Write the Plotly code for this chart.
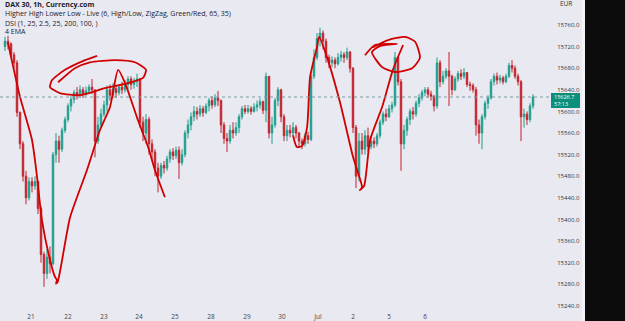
import plotly.graph_objects as go

# ---- data ----
closes = [15730, 15725, 15705, 15690, 15598, 15540, 15480, 15440, 15470, 15462,
          15470, 15420, 15335, 15300, 15330, 15318, 15520, 15545, 15530, 15565,
          15585, 15610, 15622, 15635, 15630, 15640, 15632, 15638, 15645, 15640,
          15545, 15575, 15595, 15612, 15640, 15630, 15642, 15635, 15645, 15640,
          15650, 15660, 15650, 15655, 15660, 15580, 15560, 15585, 15540, 15525,
          15495, 15480, 15500, 15495, 15512, 15525, 15518, 15528, 15505, 15520,
          15560, 15575, 15590, 15600, 15595, 15605, 15598, 15610, 15620, 15612,
          15625, 15620, 15575, 15550, 15545, 15565, 15560, 15570, 15590, 15605,
          15600, 15605, 15600, 15608, 15612, 15618, 15602, 15665, 15560, 15575,
          15620, 15640, 15590, 15555, 15565, 15560, 15570, 15560, 15545, 15540,
          15555, 15548, 15665, 15700, 15735, 15745, 15730, 15700, 15690, 15695,
          15688, 15700, 15705, 15700, 15710, 15680, 15570, 15480, 15545, 15530,
          15555, 15535, 15545, 15540, 15555, 15580, 15595, 15590, 15605, 15612,
          15700, 15655, 15540, 15565, 15585, 15600, 15595, 15615, 15625, 15635,
          15640, 15632, 15628, 15610, 15690, 15655, 15665, 15675, 15665, 15640,
          15660, 15670, 15665, 15672, 15650, 15648, 15640, 15575, 15560, 15590,
          15615, 15625, 15655, 15665, 15658, 15662, 15655, 15665, 15685, 15680,
          15665, 15655, 15590, 15595, 15585, 15610, 15626.7]
highs = [15738, 15740, 15728, 15710, 15695, 15600, 15545, 15490, 15478, 15478,
         15480, 15472, 15425, 15340, 15345, 15350, 15525, 15560, 15555, 15570,
         15590, 15615, 15628, 15640, 15645, 15648, 15645, 15646, 15650, 15660,
         15640, 15590, 15605, 15620, 15648, 15650, 15652, 15648, 15650, 15655,
         15658, 15665, 15665, 15662, 15670, 15662, 15590, 15595, 15590, 15548,
         15530, 15505, 15505, 15508, 15518, 15530, 15532, 15535, 15535, 15530,
         15565, 15585, 15598, 15610, 15608, 15612, 15610, 15615, 15625, 15628,
         15632, 15638, 15622, 15580, 15560, 15575, 15580, 15580, 15595, 15610,
         15612, 15612, 15610, 15615, 15620, 15624, 15620, 15672, 15665, 15590,
         15625, 15645, 15642, 15595, 15575, 15575, 15580, 15575, 15562, 15550,
         15560, 15562, 15670, 15715, 15745, 15755, 15750, 15735, 15705, 15702,
         15700, 15708, 15712, 15710, 15718, 15712, 15682, 15575, 15560, 15560,
         15565, 15570, 15555, 15552, 15560, 15585, 15600, 15605, 15612, 15618,
         15710, 15702, 15660, 15575, 15590, 15605, 15608, 15620, 15632, 15640,
         15645, 15645, 15638, 15630, 15700, 15695, 15675, 15680, 15710, 15668,
         15665, 15675, 15678, 15680, 15672, 15655, 15652, 15645, 15585, 15595,
         15620, 15630, 15660, 15670, 15672, 15668, 15666, 15670, 15690, 15695,
         15685, 15670, 15658, 15605, 15600, 15615, 15632]
lows = [15712, 15715, 15700, 15680, 15590, 15530, 15470, 15428, 15435, 15450,
        15455, 15410, 15320, 15275, 15290, 15300, 15315, 15505, 15505, 15525,
        15560, 15580, 15600, 15615, 15622, 15625, 15625, 15628, 15632, 15632,
        15515, 15540, 15570, 15590, 15600, 15620, 15625, 15625, 15630, 15632,
        15635, 15640, 15640, 15642, 15645, 15570, 15545, 15540, 15520, 15510,
        15480, 15450, 15475, 15485, 15490, 15505, 15510, 15512, 15475, 15500,
        15515, 15550, 15565, 15582, 15585, 15590, 15590, 15595, 15600, 15605,
        15608, 15610, 15560, 15540, 15525, 15540, 15550, 15555, 15560, 15585,
        15595, 15596, 15594, 15598, 15600, 15605, 15595, 15580, 15550, 15540,
        15570, 15610, 15580, 15545, 15545, 15552, 15555, 15550, 15535, 15530,
        15535, 15540, 15545, 15660, 15695, 15720, 15715, 15690, 15680, 15682,
        15680, 15685, 15692, 15690, 15695, 15672, 15560, 15458, 15470, 15520,
        15520, 15525, 15530, 15532, 15535, 15550, 15575, 15582, 15588, 15598,
        15608, 15648, 15490, 15530, 15555, 15575, 15585, 15590, 15608, 15620,
        15628, 15625, 15620, 15600, 15605, 15645, 15650, 15660, 15610, 15630,
        15638, 15655, 15658, 15660, 15645, 15638, 15635, 15555, 15540, 15530,
        15585, 15605, 15622, 15648, 15650, 15652, 15650, 15652, 15662, 15672,
        15660, 15648, 15545, 15570, 15575, 15580, 15605]
first_open = 15720
opens = [first_open] + closes[:-1]
bar_idx = list(range(len(closes)))

day_labels = ["21", "22", "23", "24", "25", "28", "29", "30", "Jul", "2", "5", "6"]
day_start_idx = [8.67, 21, 33, 44.67, 56.67, 68.67, 80.67, 92.33, 104.33, 116, 128, 140]

price_ticks = [15240, 15280, 15320, 15360, 15400, 15440, 15480, 15520, 15560,
               15600, 15640, 15680, 15720, 15760]
last_price = 15626.7

# hand-drawn red markup (bar index, price)
strokeA_x = [1.0, 5.0, 9.0, 10.7, 12.3, 15.0, 16.7, 17.3, 17.0, 17.6, 21.7, 27.3, 31.7, 35.0, 37.7, 40.0, 44.3, 47.7, 50.0, 53.3]
strokeA_y = [15727, 15627, 15547, 15478, 15399, 15325, 15293, 15288, 15281, 15285, 15404, 15491, 15566, 15608, 15677, 15653, 15584, 15534, 15491, 15441]
ellA_x = [17.7, 23.3, 28.3, 36.7, 43.3, 47.0, 46.0, 40.0, 33.3, 25.0, 18.3, 15.0, 15.7, 20.0, 26.7, 30.7]
ellA_y = [15654, 15680, 15691, 15695, 15691, 15677, 15662, 15651, 15643, 15630, 15634, 15645, 15658, 15677, 15695, 15703]
strokeB_x = [96.0, 97.3, 99.0, 100.7, 101.7, 104.0, 104.7, 107.3, 111.7, 116.0, 117.7, 119.0, 118.3, 119.7, 121.7, 125.7, 129.3, 132.7]
strokeB_y = [15556, 15534, 15536, 15571, 15664, 15719, 15738, 15701, 15616, 15516, 15486, 15460, 15454, 15462, 15547, 15608, 15677, 15723]
ellB_x = [120.0, 123.3, 130.7, 125.0, 122.3, 125.7, 130.0, 135.7, 138.3, 136.7, 133.3, 127.7, 122.7]
ellB_y = [15704, 15723, 15725, 15721, 15710, 15682, 15673, 15680, 15699, 15729, 15738, 15732, 15719]

# ---- figure ----
BG = "#e9e9f1"
UP = "#1f9e8c"
DOWN = "#c4232c"
INK = "#d00000"
W, H = 625, 321
ML, MR, MT, MB = 0, 74, 0, 10
PW = W - ML - MR
PH = H - MT - MB

fig = go.Figure()
fig.add_trace(go.Candlestick(
    x=bar_idx, open=opens, high=highs, low=lows, close=closes,
    increasing=dict(line=dict(color=UP, width=1), fillcolor=UP),
    decreasing=dict(line=dict(color=DOWN, width=1), fillcolor=DOWN),
    whiskerwidth=0, hoverinfo="skip", showlegend=False))

for xs, ys in [(strokeA_x, strokeA_y), (ellA_x, ellA_y), (strokeB_x, strokeB_y), (ellB_x, ellB_y)]:
    fig.add_trace(go.Scatter(x=xs, y=ys, mode="lines",
                             line=dict(color=INK, width=1.8, shape="spline", smoothing=0.6),
                             hoverinfo="skip", showlegend=False))

fig.update_layout(
    width=W, height=H, margin=dict(l=ML, r=MR, t=MT, b=MB),
    paper_bgcolor=BG, plot_bgcolor=BG,
    font=dict(family="Open Sans, Arial", color="#333333", size=7),
    xaxis=dict(range=[-1.667, 182], tickvals=day_start_idx, ticktext=day_labels,
               showgrid=False, zeroline=False, showline=False, ticks="",
               rangeslider=dict(visible=False), automargin=False,
               tickfont=dict(size=6.5, color="#444444")),
    yaxis=dict(range=[15230.4, 15806.3], side="right", tickvals=price_ticks,
               tickformat=".1f", showgrid=False, zeroline=False, showline=False,
               ticks="outside", ticklen=4, tickcolor=BG, automargin=False,
               tickfont=dict(size=6, color="#333333")),
)

# last price dashed line
fig.add_shape(type="line", xref="paper", yref="y", x0=0, x1=1, y0=last_price, y1=last_price,
              line=dict(color="#7d9ca3", width=1, dash="dot"))


def px2x(px):
    return (px - ML) / PW


def py2y(py):
    return 1 - (py - MT) / PH


# price tag
fig.add_shape(type="rect", xref="paper", yref="paper",
              x0=px2x(551), x1=px2x(580), y0=py2y(108), y1=py2y(93),
              fillcolor="#0b8f7a", line=dict(width=0))
fig.add_annotation(xref="paper", yref="paper", x=px2x(553), y=py2y(100.7),
                   text="15626.7<br>57:13", align="left",
                   showarrow=False, xanchor="left", yanchor="middle", borderpad=0,
                   font=dict(size=5.5, color="white"))
fig.add_annotation(xref="paper", yref="paper", x=px2x(558), y=py2y(4), text="EUR",
                   showarrow=False, xanchor="left", yanchor="middle",
                   font=dict(size=6.5, color="#333333"))

# right strip
fig.add_shape(type="rect", xref="paper", yref="paper",
              x0=px2x(582), x1=px2x(585), y0=-0.2, y1=1.2,
              fillcolor="#f4f4f8", line=dict(width=0))
fig.add_shape(type="rect", xref="paper", yref="paper",
              x0=px2x(585), x1=px2x(640), y0=-0.2, y1=1.2,
              fillcolor="#0c0c0c", line=dict(width=0))

# header texts
headers = [("<b>DAX 30, 1h, Currency.com</b>", 5),
           ("Higher High Lower Low - Live (6, High/Low, ZigZag, Green/Red, 65, 35)", 14),
           ("DSI (1, 25, 2.5, 25, 200, 100, )", 23),
           ("4 EMA", 32)]
for txt, py in headers:
    fig.add_annotation(xref="paper", yref="paper", x=px2x(3), y=py2y(py), text=txt,
                       showarrow=False, xanchor="left", yanchor="middle",
                       font=dict(size=7, color="#1a1a2a"))

fig.write_html("out.html")
